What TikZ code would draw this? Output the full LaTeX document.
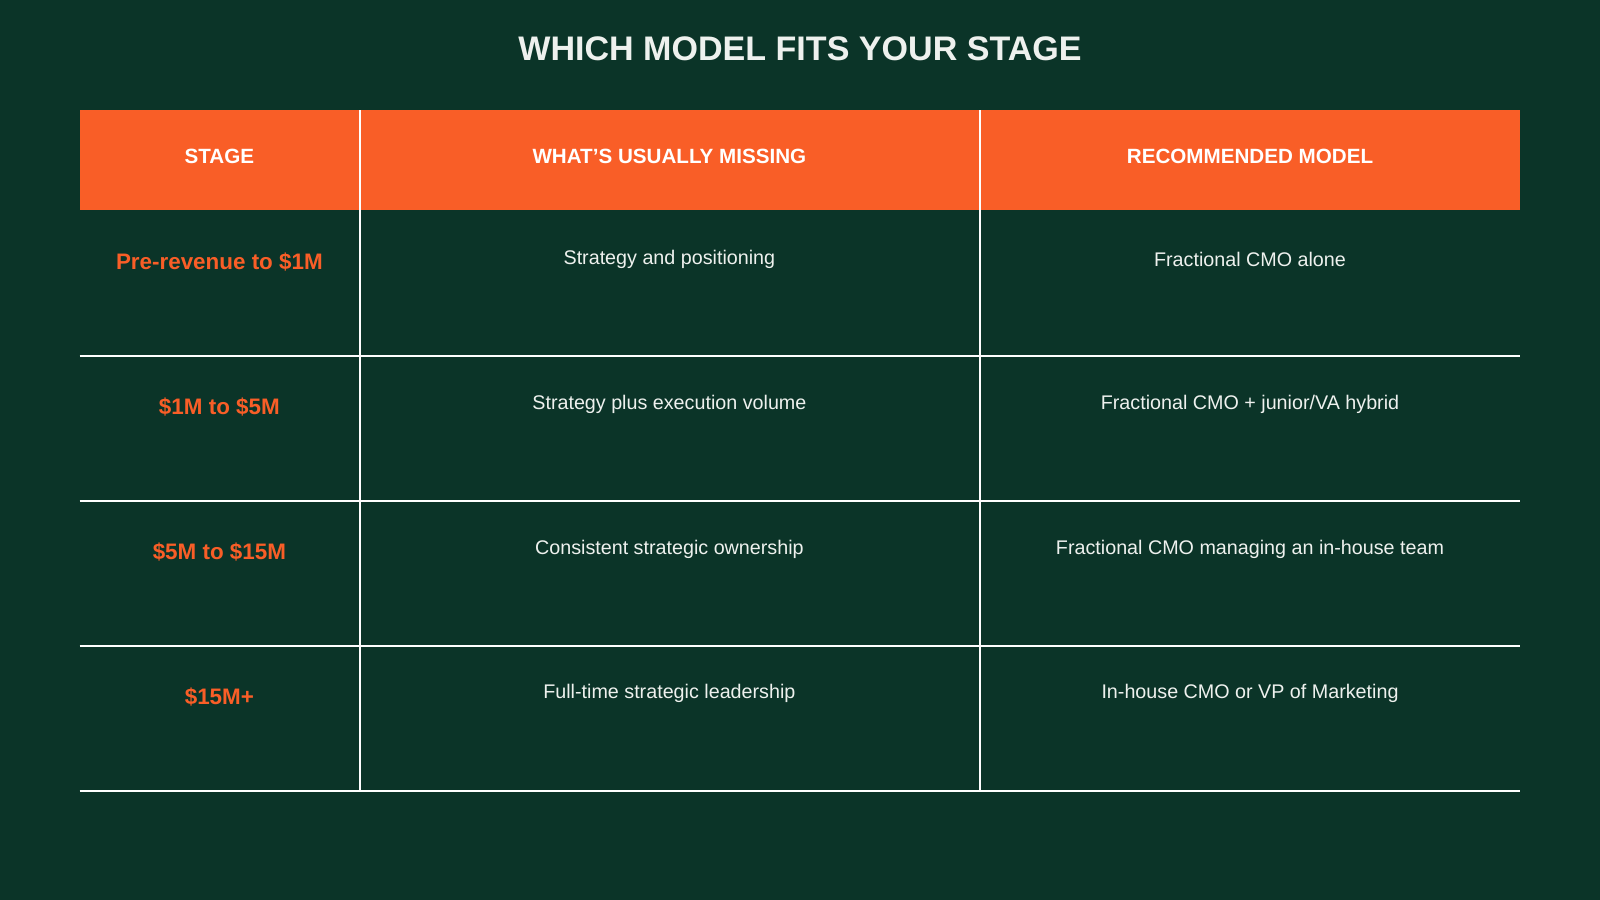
\documentclass[tikz,border=0pt]{standalone}
\usepackage{fontspec}
\setmainfont{Liberation Sans}
\definecolor{bg}{HTML}{0B3428}
\definecolor{org}{HTML}{F95E27}
\definecolor{txt}{HTML}{EEF1EE}
\begin{document}
\begin{tikzpicture}[x=0.02cm,y=-0.02cm,
  hdr/.style={font=\fontsize{11.5}{13}\selectfont\bfseries,text=white,anchor=center},
  stg/.style={font=\fontsize{12.5}{14}\selectfont\bfseries,text=org,anchor=center},
  cell/.style={font=\fontsize{11}{13}\selectfont,text=txt,anchor=center},
  rule/.style={draw=white,line width=1.1pt}]
\fill[bg] (0,0) rectangle (1568,882);
\useasboundingbox (0,0) rectangle (1568,882);
\node[font=\fontsize{19}{22}\selectfont\bfseries,text=txt] (title) at (784,48) {WHICH MODEL FITS YOUR STAGE};
\fill[org] (78,108) rectangle (1490,206);
\node[hdr] (h1) at (215,153) {STAGE};
\node[hdr] (h2) at (656,153) {WHAT'S USUALLY MISSING};
\node[hdr] (h3) at (1225,153) {RECOMMENDED MODEL};
\draw[rule] (353,108) -- (353,775);
\draw[rule] (960,108) -- (960,775);
\foreach \y in {349,491,633,775} \draw[rule] (78,\y) -- (1490,\y);
\node[stg] (s1) at (215,257) {Pre-revenue to \$1M};
\node[stg] (s2) at (215,399) {\$1M to \$5M};
\node[stg] (s3) at (215,541) {\$5M to \$15M};
\node[stg] (s4) at (215,683) {\$15M+};
\node[cell] (m1) at (656,254) {Strategy and positioning};
\node[cell] (m2) at (656,396) {Strategy plus execution volume};
\node[cell] (m3) at (656,538) {Consistent strategic ownership};
\node[cell] (m4) at (656,680) {Full-time strategic leadership};
\node[cell] (r1) at (1225,254) {Fractional CMO alone};
\node[cell] (r2) at (1225,396) {Fractional CMO + junior/VA hybrid};
\node[cell] (r3) at (1225,538) {Fractional CMO managing an in-house team};
\node[cell] (r4) at (1225,680) {In-house CMO or VP of Marketing};
\end{tikzpicture}
\end{document}
